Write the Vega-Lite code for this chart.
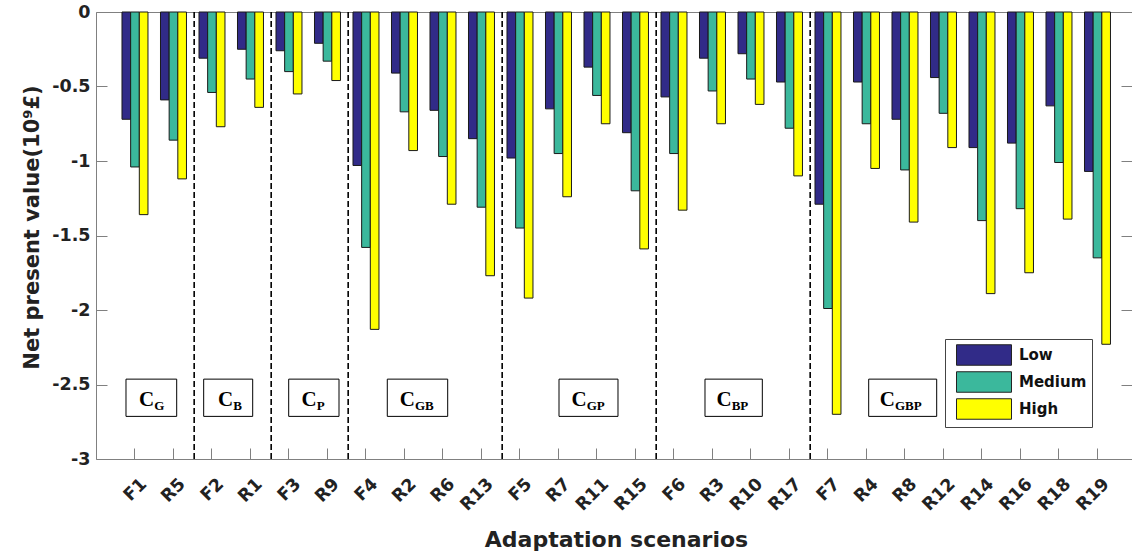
{
  "$schema": "https://vega.github.io/schema/vega-lite/v6.json",
  "width": 1036,
  "height": 447,
  "autosize": {"type": "none"},
  "padding": {"left": 96, "top": 12, "right": 0, "bottom": 97},
  "background": "white",
  "config": {"view": {"stroke": null}, "font": "DejaVu Sans"},
  "datasets": {
    "npv": [
      {"scenario": "F1", "level": "Low", "npv": -0.72}, {"scenario": "F1", "level": "Medium", "npv": -1.04}, {"scenario": "F1", "level": "High", "npv": -1.36},
      {"scenario": "R5", "level": "Low", "npv": -0.59}, {"scenario": "R5", "level": "Medium", "npv": -0.86}, {"scenario": "R5", "level": "High", "npv": -1.12},
      {"scenario": "F2", "level": "Low", "npv": -0.31}, {"scenario": "F2", "level": "Medium", "npv": -0.54}, {"scenario": "F2", "level": "High", "npv": -0.77},
      {"scenario": "R1", "level": "Low", "npv": -0.25}, {"scenario": "R1", "level": "Medium", "npv": -0.45}, {"scenario": "R1", "level": "High", "npv": -0.64},
      {"scenario": "F3", "level": "Low", "npv": -0.26}, {"scenario": "F3", "level": "Medium", "npv": -0.40}, {"scenario": "F3", "level": "High", "npv": -0.55},
      {"scenario": "R9", "level": "Low", "npv": -0.21}, {"scenario": "R9", "level": "Medium", "npv": -0.33}, {"scenario": "R9", "level": "High", "npv": -0.46},
      {"scenario": "F4", "level": "Low", "npv": -1.03}, {"scenario": "F4", "level": "Medium", "npv": -1.58}, {"scenario": "F4", "level": "High", "npv": -2.13},
      {"scenario": "R2", "level": "Low", "npv": -0.41}, {"scenario": "R2", "level": "Medium", "npv": -0.67}, {"scenario": "R2", "level": "High", "npv": -0.93},
      {"scenario": "R6", "level": "Low", "npv": -0.66}, {"scenario": "R6", "level": "Medium", "npv": -0.97}, {"scenario": "R6", "level": "High", "npv": -1.29},
      {"scenario": "R13", "level": "Low", "npv": -0.85}, {"scenario": "R13", "level": "Medium", "npv": -1.31}, {"scenario": "R13", "level": "High", "npv": -1.77},
      {"scenario": "F5", "level": "Low", "npv": -0.98}, {"scenario": "F5", "level": "Medium", "npv": -1.45}, {"scenario": "F5", "level": "High", "npv": -1.92},
      {"scenario": "R7", "level": "Low", "npv": -0.65}, {"scenario": "R7", "level": "Medium", "npv": -0.95}, {"scenario": "R7", "level": "High", "npv": -1.24},
      {"scenario": "R11", "level": "Low", "npv": -0.37}, {"scenario": "R11", "level": "Medium", "npv": -0.56}, {"scenario": "R11", "level": "High", "npv": -0.75},
      {"scenario": "R15", "level": "Low", "npv": -0.81}, {"scenario": "R15", "level": "Medium", "npv": -1.20}, {"scenario": "R15", "level": "High", "npv": -1.59},
      {"scenario": "F6", "level": "Low", "npv": -0.57}, {"scenario": "F6", "level": "Medium", "npv": -0.95}, {"scenario": "F6", "level": "High", "npv": -1.33},
      {"scenario": "R3", "level": "Low", "npv": -0.31}, {"scenario": "R3", "level": "Medium", "npv": -0.53}, {"scenario": "R3", "level": "High", "npv": -0.75},
      {"scenario": "R10", "level": "Low", "npv": -0.28}, {"scenario": "R10", "level": "Medium", "npv": -0.45}, {"scenario": "R10", "level": "High", "npv": -0.62},
      {"scenario": "R17", "level": "Low", "npv": -0.47}, {"scenario": "R17", "level": "Medium", "npv": -0.78}, {"scenario": "R17", "level": "High", "npv": -1.10},
      {"scenario": "F7", "level": "Low", "npv": -1.29}, {"scenario": "F7", "level": "Medium", "npv": -1.99}, {"scenario": "F7", "level": "High", "npv": -2.70},
      {"scenario": "R4", "level": "Low", "npv": -0.47}, {"scenario": "R4", "level": "Medium", "npv": -0.75}, {"scenario": "R4", "level": "High", "npv": -1.05},
      {"scenario": "R8", "level": "Low", "npv": -0.72}, {"scenario": "R8", "level": "Medium", "npv": -1.06}, {"scenario": "R8", "level": "High", "npv": -1.41},
      {"scenario": "R12", "level": "Low", "npv": -0.44}, {"scenario": "R12", "level": "Medium", "npv": -0.68}, {"scenario": "R12", "level": "High", "npv": -0.91},
      {"scenario": "R14", "level": "Low", "npv": -0.91}, {"scenario": "R14", "level": "Medium", "npv": -1.40}, {"scenario": "R14", "level": "High", "npv": -1.89},
      {"scenario": "R16", "level": "Low", "npv": -0.88}, {"scenario": "R16", "level": "Medium", "npv": -1.32}, {"scenario": "R16", "level": "High", "npv": -1.75},
      {"scenario": "R18", "level": "Low", "npv": -0.63}, {"scenario": "R18", "level": "Medium", "npv": -1.01}, {"scenario": "R18", "level": "High", "npv": -1.39},
      {"scenario": "R19", "level": "Low", "npv": -1.07}, {"scenario": "R19", "level": "Medium", "npv": -1.65}, {"scenario": "R19", "level": "High", "npv": -2.23}
    ],
    "bounds": [{"b": 2.55}, {"b": 4.55}, {"b": 6.55}, {"b": 10.55}, {"b": 14.55}, {"b": 18.55}],
    "groups": [
      {"main": "C", "sub": "G", "x1": 0.779, "x2": 2.096, "tx": 1.514, "y1": -2.464, "y2": -2.714, "cy": -2.647, "sy": -2.674},
      {"main": "C", "sub": "B", "x1": 2.797, "x2": 4.070, "tx": 3.566, "y1": -2.464, "y2": -2.714, "cy": -2.647, "sy": -2.674},
      {"main": "C", "sub": "P", "x1": 5.005, "x2": 6.312, "tx": 5.732, "y1": -2.464, "y2": -2.714, "cy": -2.647, "sy": -2.674},
      {"main": "C", "sub": "GB", "x1": 7.566, "x2": 9.135, "tx": 8.286, "y1": -2.464, "y2": -2.714, "cy": -2.647, "sy": -2.674},
      {"main": "C", "sub": "GP", "x1": 12.026, "x2": 13.558, "tx": 12.745, "y1": -2.464, "y2": -2.714, "cy": -2.647, "sy": -2.674},
      {"main": "C", "sub": "BP", "x1": 15.818, "x2": 17.307, "tx": 16.51, "y1": -2.464, "y2": -2.714, "cy": -2.647, "sy": -2.674},
      {"main": "C", "sub": "GBP", "x1": 20.07, "x2": 21.836, "tx": 20.753, "y1": -2.464, "y2": -2.714, "cy": -2.647, "sy": -2.674}
    ]
  },
  "resolve": {"scale": {"x": "independent"}, "axis": {"x": "independent", "y": "independent"}},
  "layer": [
    {
      "data": {"name": "npv"},
      "mark": {"type": "bar", "stroke": "#1a1a1a", "strokeWidth": 1},
      "encoding": {
        "x": {
          "field": "scenario", "type": "nominal", "sort": null,
          "scale": {"paddingInner": 0.325, "paddingOuter": 0.617, "align": 0.547},
          "axis": {
            "orient": "bottom", "title": "Adaptation scenarios",
            "labelAngle": -45, "labelAlign": "right", "labelBaseline": "middle",
            "labelFont": "DejaVu Sans", "labelFontWeight": "bold", "labelFontSize": 17.5, "labelColor": "#222222",
            "labelPadding": 33, "labelOffset": 9,
            "tickSize": -11, "tickColor": "#808080", "tickWidth": 1, "domainColor": "#808080", "domainWidth": 1, "grid": false,
            "titleFont": "DejaVu Sans", "titleFontWeight": "bold", "titleFontSize": 22, "titleColor": "#222222",
            "titleX": 520, "titleY": 87, "titleAlign": "center", "titleBaseline": "alphabetic", "titleAnchor": null
          }
        },
        "xOffset": {"field": "level", "type": "nominal", "sort": ["Low", "Medium", "High"], "scale": {"paddingInner": 0, "paddingOuter": 0}},
        "y": {
          "field": "npv", "type": "quantitative",
          "scale": {"domain": [-3, 0], "nice": false, "zero": false},
          "axis": {
            "orient": "left", "values": [0, -0.5, -1, -1.5, -2, -2.5, -3],
            "labelExpr": "replace(format(datum.value, '~g'), '\u2212', '-')",
            "labelFont": "DejaVu Sans", "labelFontWeight": "bold", "labelFontSize": 17.5, "labelColor": "#222222",
            "labelPadding": 17, "tickSize": -11, "tickColor": "#808080", "domainColor": "#808080", "grid": false,
            "title": "Net present value(10\u2079\u00a3)",
            "titleFont": "DejaVu Sans", "titleFontWeight": "bold", "titleFontSize": 21, "titleColor": "#222222",
            "titleX": -64, "titleY": 215, "titleAngle": -90, "titleAlign": "center", "titleBaseline": "middle", "titleAnchor": null
          }
        },
        "fill": {
          "field": "level", "type": "nominal",
          "scale": {"domain": ["Low", "Medium", "High"], "range": ["#312b88", "#3bb89c", "#ffff00"]},
          "legend": {
            "title": null, "orient": "none", "legendX": 849, "legendY": 327,
            "symbolType": "M-2.683,-1H2.683V1H-2.683Z", "symbolSize": 420,
            "symbolStrokeColor": "#222222", "symbolStrokeWidth": 1, "symbolOpacity": 1,
            "symbolOffset": 23, "labelOffset": 24,
            "labelFont": "DejaVu Sans", "labelFontWeight": "bold", "labelFontSize": 15, "labelColor": "#111111",
            "strokeColor": "#444444", "fillColor": "white", "padding": 5, "rowPadding": 1
          }
        }
      }
    },
    {
      "layer": [
        {
          "data": {"name": "bounds"},
          "mark": {"type": "rule", "color": "black", "strokeWidth": 1.6, "strokeDash": [6, 3]},
          "encoding": {
            "x": {
              "field": "b", "type": "quantitative",
              "scale": {"domain": [0, 26.909], "nice": false, "zero": false},
              "axis": {"orient": "top", "labels": false, "ticks": false, "title": null, "grid": false, "domainColor": "#808080"}
            }
          }
        },
        {
          "data": {"name": "groups"},
          "mark": {"type": "rect", "fill": "white", "stroke": "black", "strokeWidth": 1},
          "encoding": {
            "x": {"field": "x1", "type": "quantitative"},
            "x2": {"field": "x2"},
            "y": {
              "field": "y1", "type": "quantitative",
              "axis": {"orient": "right", "labels": false, "domain": false, "title": null, "grid": false, "values": [0, -0.5, -1, -1.5, -2, -2.5, -3], "tickSize": -11, "tickColor": "#808080"}
            },
            "y2": {"field": "y2"}
          }
        },
        {
          "data": {"name": "groups"},
          "mark": {"type": "text", "font": "Liberation Serif", "fontWeight": "bold", "fontSize": 21, "align": "right", "baseline": "alphabetic", "color": "black"},
          "encoding": {
            "x": {"field": "tx", "type": "quantitative"},
            "y": {"field": "cy", "type": "quantitative"},
            "text": {"field": "main"}
          }
        },
        {
          "data": {"name": "groups"},
          "mark": {"type": "text", "font": "Liberation Serif", "fontWeight": "bold", "fontSize": 13, "align": "left", "baseline": "alphabetic", "color": "black"},
          "encoding": {
            "x": {"field": "tx", "type": "quantitative"},
            "y": {"field": "sy", "type": "quantitative"},
            "text": {"field": "sub"}
          }
        }
      ]
    }
  ]
}
